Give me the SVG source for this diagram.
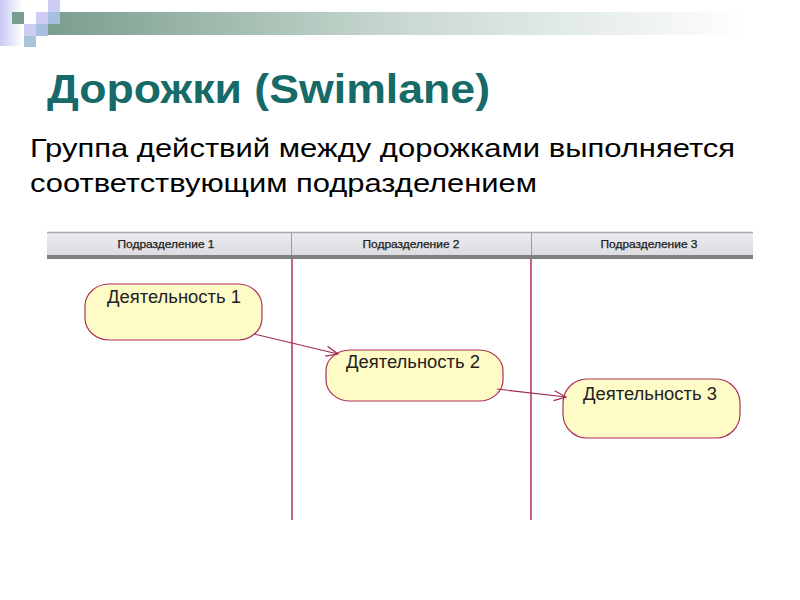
<svg xmlns="http://www.w3.org/2000/svg" width="800" height="600" viewBox="0 0 800 600">
<defs>
<linearGradient id="bar" x1="0" y1="0" x2="1" y2="0">
<stop offset="0" stop-color="#7a9e8e"/>
<stop offset="0.5" stop-color="#c8d8d0"/>
<stop offset="1" stop-color="#ffffff"/>
</linearGradient>
<linearGradient id="side" x1="0" y1="0" x2="1" y2="0">
<stop offset="0" stop-color="#c8c8f4"/>
<stop offset="1" stop-color="#ffffff"/>
</linearGradient>
<linearGradient id="hdr" x1="0" y1="0" x2="0" y2="1">
<stop offset="0" stop-color="#ececf0"/>
<stop offset="1" stop-color="#dcdce0"/>
</linearGradient>
<marker id="arr" markerWidth="14" markerHeight="12" refX="13" refY="6" orient="auto" markerUnits="userSpaceOnUse">
<path d="M1,1 L13,6 L1,11" fill="none" stroke="#a0284e" stroke-width="1.2"/>
</marker>
</defs>
<style>
.title{font-family:"Liberation Sans",Arial,sans-serif;font-weight:bold;font-size:41px;fill:#166a68}
.sub{font-family:"Liberation Sans",Arial,sans-serif;font-size:26px;fill:#000}
.hl{font-family:"Liberation Sans",Arial,sans-serif;font-size:10px;fill:#222;text-anchor:middle;stroke:#222;stroke-width:0.25}
.act{fill:#fffbc6;stroke:#b0305a;stroke-width:1.2}
.at{font-family:"Liberation Sans",Arial,sans-serif;font-size:18px;fill:#222}
.lane{stroke:#b0305a;stroke-width:1.5}
.edge{stroke:#a0284e;stroke-width:1.2;fill:none}
</style>
<rect width="800" height="600" fill="#fff"/>
<!-- decoration -->
<rect x="0" y="0" width="22" height="46" fill="url(#side)"/>
<rect x="48" y="12" width="700" height="23" fill="url(#bar)"/>
<rect x="12" y="12" width="12" height="12" fill="#7a9e8e"/>
<rect x="48" y="0" width="12" height="12" fill="#ccccf4"/>
<rect x="36" y="12" width="12" height="12" fill="#ccccf4"/>
<rect x="48" y="12" width="12" height="12" fill="#a8c0e0"/>
<rect x="24" y="24" width="12" height="12" fill="#ccccf4"/>
<rect x="36" y="24" width="12" height="12" fill="#a8c0e0"/>
<rect x="24" y="36" width="12" height="11" fill="#a8c4d8"/>
<text class="title" x="47" y="103" textLength="443" lengthAdjust="spacingAndGlyphs">Дорожки (Swimlane)</text>
<text class="sub" x="30" y="157" textLength="705" lengthAdjust="spacingAndGlyphs">Группа действий между дорожками выполняется</text>
<text class="sub" x="30" y="192" textLength="507" lengthAdjust="spacingAndGlyphs">соответствующим подразделением</text>
<!-- header -->
<g id="header">
<rect x="47" y="232" width="706" height="25" fill="url(#hdr)"/>
<line x1="47" y1="232.5" x2="753" y2="232.5" stroke="#a8a8b0" stroke-width="1.5"/>
<rect x="47" y="255" width="706" height="4" fill="#808080"/>
<line x1="291.5" y1="233" x2="291.5" y2="255" stroke="#9a9aa0"/>
<line x1="531.5" y1="233" x2="531.5" y2="255" stroke="#9a9aa0"/>
<text class="hl" x="166" y="248" textLength="97" lengthAdjust="spacingAndGlyphs">Подразделение 1</text>
<text class="hl" x="411" y="248" textLength="97" lengthAdjust="spacingAndGlyphs">Подразделение 2</text>
<text class="hl" x="649" y="248" textLength="97" lengthAdjust="spacingAndGlyphs">Подразделение 3</text>
</g>
<g id="lanes">
<line class="lane" x1="292" y1="259" x2="292" y2="520"/>
<line class="lane" x1="531" y1="259" x2="531" y2="520"/>
</g>
<g id="act1">
<rect class="act" x="85" y="284" width="177" height="56" rx="24" ry="22"/>
<text class="at" x="107" y="303" textLength="134" lengthAdjust="spacingAndGlyphs">Деятельность 1</text>
</g>
<g id="act2">
<rect class="act" x="326" y="350" width="177" height="51" rx="24" ry="21"/>
<text class="at" x="346" y="368" textLength="134" lengthAdjust="spacingAndGlyphs">Деятельность 2</text>
</g>
<g id="act3">
<rect class="act" x="563" y="379" width="177" height="59" rx="24" ry="24"/>
<text class="at" x="583" y="400" textLength="134" lengthAdjust="spacingAndGlyphs">Деятельность 3</text>
</g>
<g id="connectors">
<line class="edge" x1="254" y1="334" x2="338" y2="354" marker-end="url(#arr)"/>
<line class="edge" x1="497" y1="389" x2="566" y2="397" marker-end="url(#arr)"/>
</g>
</svg>
